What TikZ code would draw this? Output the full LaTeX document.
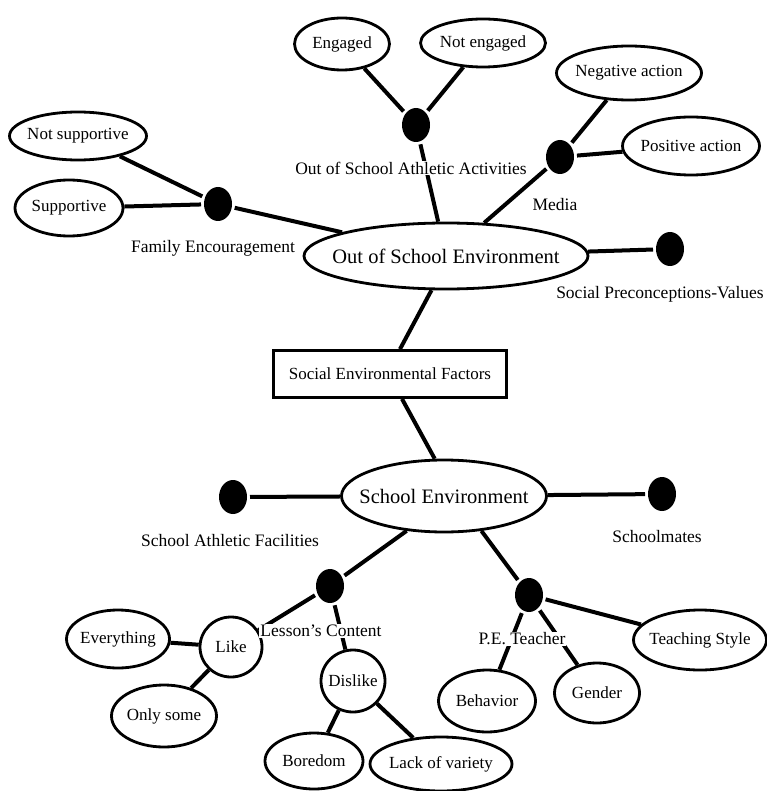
\documentclass[tikz,border=0pt]{standalone}
\usepackage{fontspec}
\setmainfont{Liberation Serif}
\usetikzlibrary{shapes.geometric,calc}
\newcommand\ctrtext[1]{\makebox[0pt][c]{#1}}
\tikzset{
  ell/.style={draw, ellipse, line width=2.8pt, inner sep=0pt, font=\fontsize{17}{19}\selectfont},
  bigell/.style={ell, font=\fontsize{20.5}{23}\selectfont},
  dot/.style={fill=black, ellipse, minimum width=28pt, minimum height=34pt, inner sep=0pt, outer sep=3pt},
  lbl/.style={fill=white, inner sep=1pt, font=\fontsize{17.5}{20}\selectfont},
  conn/.style={line width=4pt},
  factbox/.style={draw, rectangle, line width=2.8pt, minimum width=233pt, minimum height=47pt, font=\fontsize{17}{19}\selectfont}
}
\begin{document}
\begin{tikzpicture}[x=1pt,y=-1pt]
\useasboundingbox[fill=white] (0,0) rectangle (766,791);
% ellipses
\node[ell, minimum width=95pt, minimum height=52pt] (eng) at (342,44) {\ctrtext{Engaged}};
\node[ell, minimum width=125pt, minimum height=48pt] (neng) at (483,43) {\ctrtext{Not engaged}};
\node[ell, minimum width=137pt, minimum height=48pt] (nsup) at (78,136) {\ctrtext{Not supportive}};
\node[ell, minimum width=108pt, minimum height=56pt] (sup) at (69,208) {\ctrtext{Supportive}};
\node[bigell, minimum width=284pt, minimum height=66pt] (ose) at (446,256) {\ctrtext{Out of School Environment}};
\node[ell, minimum width=145pt, minimum height=54pt] (neg) at (629,73) {\ctrtext{Negative action}};
\node[ell, minimum width=137pt, minimum height=58pt] (pos) at (691,146) {\ctrtext{Positive action}};
\node[factbox] (sef) at (390,374) {Social Environmental Factors};
\node[bigell, minimum width=205pt, minimum height=72pt] (se) at (444,496) {\ctrtext{School Environment}};
\node[ell, minimum width=62pt, minimum height=60pt] (like) at (231,647) {\ctrtext{Like}};
\node[ell, minimum width=103pt, minimum height=58pt] (every) at (118,639) {\ctrtext{Everything}};
\node[ell, minimum width=105pt, minimum height=62pt] (only) at (164,716) {\ctrtext{Only some}};
\node[ell, minimum width=64pt, minimum height=62pt] (dis) at (353,681) {\ctrtext{Dislike}};
\node[ell, minimum width=98pt, minimum height=56pt] (bore) at (314,761) {\ctrtext{Boredom}};
\node[ell, minimum width=142pt, minimum height=54pt] (lack) at (441,764) {\ctrtext{Lack of variety}};
\node[ell, minimum width=97pt, minimum height=62pt] (beh) at (487,701) {\ctrtext{Behavior}};
\node[ell, minimum width=85pt, minimum height=60pt] (gen) at (597,693) {\ctrtext{Gender}};
\node[ell, minimum width=133pt, minimum height=60pt] (teach) at (700,640) {\ctrtext{Teaching Style}};
% dots
\node[dot] (d1) at (416,125) {};
\node[dot] (dfam) at (218,204) {};
\node[dot] (dmed) at (560,157) {};
\node[dot] (dsoc) at (670,249) {};
\node[dot] (dfac) at (233,497) {};
\node[dot] (dmate) at (662,494) {};
\node[dot] (dles) at (330,586) {};
\node[dot] (dpe) at (529,595) {};
% connectors
\draw[conn] (eng) -- (d1);
\draw[conn] (neng) -- (d1);
\draw[conn] (d1) -- (ose);
\draw[conn] (nsup) -- (dfam);
\draw[conn] (sup) -- (dfam);
\draw[conn] (dfam) -- (ose);
\draw[conn] (neg) -- (dmed);
\draw[conn] (dmed) -- (pos);
\draw[conn] (dmed) -- (ose);
\draw[conn] (ose) -- (dsoc);
\draw[conn] (ose.247) -- ($(sef.north)+(10,0)$);
\draw[conn] ($(sef.south)+(12,0)$) -- (se.104);
\draw[conn] (se) -- (dfac);
\draw[conn] (se) -- (dmate);
\draw[conn] (se.223) -- (dles);
\draw[conn] (se.317) -- (dpe);
\draw[conn] (dles) -- (like);
\draw[conn] (dles) -- (dis);
\draw[conn] (every) -- (like);
\draw[conn] (like) -- (only);
\draw[conn] (dis) -- (bore);
\draw[conn] (dis) -- (lack);
\draw[conn] (dpe) -- (beh);
\draw[conn] (dpe) -- (gen);
\draw[conn] (dpe) -- (teach);
% labels
\node[lbl] (l1) at (411,168) {Out of School Athletic Activities};
\node[lbl] (lfam) at (213,248) {Family Encouragement};
\node[lbl] (lmed) at (555,205) {Media};
\node[lbl] (lsoc) at (660,294) {Social Preconceptions-Values};
\node[lbl] (lfac) at (230,541) {School Athletic Facilities};
\node[lbl] (lmate) at (657,537) {Schoolmates};
\node[lbl] (lles) at (321,631) {Lesson's Content};
\node[lbl] (lpe) at (522,639) {P.E. Teacher};
\end{tikzpicture}
\end{document}
